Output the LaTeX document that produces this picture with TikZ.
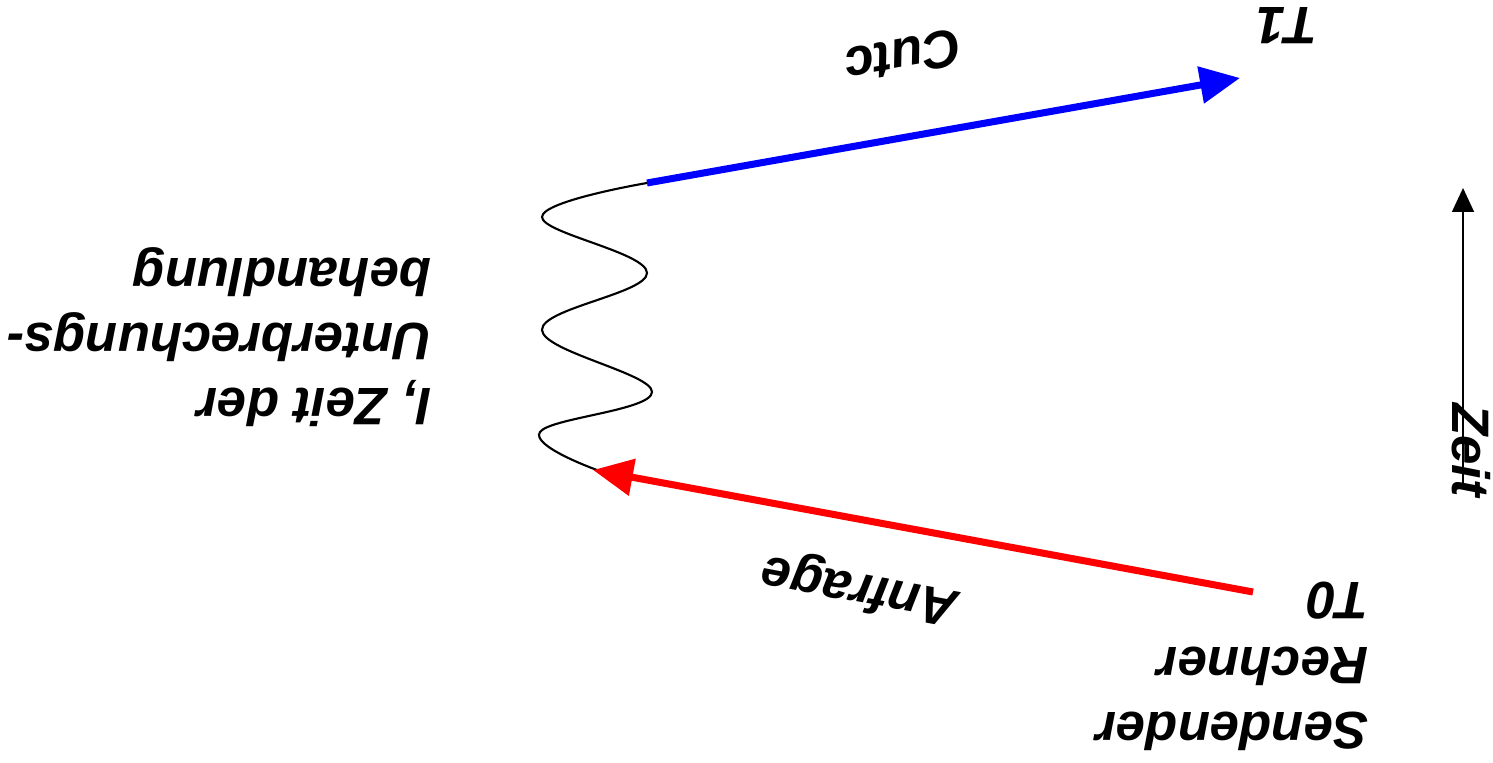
\documentclass[tikz,border=0pt]{standalone}
\usepackage{fontspec}
\setmainfont{Liberation Sans}
\usetikzlibrary{positioning,arrows.meta}

\begin{document}
\begin{tikzpicture}[
  >={Triangle[length=4mm,width=3.6mm]},
  lbl/.style={font=\fontsize{15}{18.5}\selectfont\bfseries\itshape, align=left, inner sep=0pt},
  msg/.style={line width=2pt, ->},
  wave/.style={line width=0.6pt}]
  \useasboundingbox (0,0) rectangle (14.93,7.62);
  % end points of the messages
  \coordinate (send) at (12.53,1.70);
  \coordinate (recv) at (12.40,6.84);
  \coordinate (wend) at (5.97,2.92);
  \coordinate (wbeg) at (6.47,5.79);
  % interrupt handling (wave)
  \draw[wave] plot[smooth, tension=0.65] coordinates {(6.47,5.79) (5.42,5.45) (6.47,4.89)
    (5.42,4.32) (6.52,3.70) (5.40,3.30) (5.97,2.92)};
  % messages
  \draw[msg, red] (send) -- (5.93,2.92);
  \draw[msg, blue] (wbeg) -- (recv);
  % labels
  \node[lbl, rotate=180] (sender) at (12.32,0.96) {Sendender\\Rechner\\T0};
  \node[lbl, rotate=180] (tone) at (12.87,7.36) {T1};
  \node[lbl, rotate=180] (handler) at (2.19,4.25) {I, Zeit der\\Unterbrechungs-\\behandlung};
  \node[lbl, rotate=169.5] (anfrage) at (8.60,1.74) {Anfrage};
  \node[lbl, rotate=190] (cutc) at (9.03,7.05) {Cutc};
  % time axis
  \node[lbl, rotate=-90] (zeit) at (14.71,3.12) {Zeit};
  \coordinate (ztop) at (14.63,5.74);
  \draw[line width=0.45pt, -{Triangle[length=2.4mm,width=2.2mm]}] (zeit.east -| ztop) ++(0,0.1) -- (ztop);
\end{tikzpicture}
\end{document}
